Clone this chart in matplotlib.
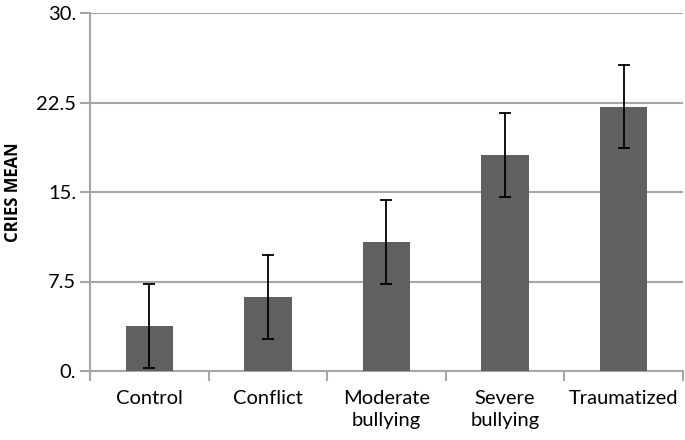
import matplotlib
matplotlib.use("Agg")
import matplotlib.pyplot as plt
import numpy as np

categories = ["Control", "Conflict", "Moderate\nbullying", "Severe\nbullying", "Traumatized"]
means = [3.75, 6.2, 10.8, 18.1, 22.15]
errors = [3.5, 3.5, 3.5, 3.5, 3.5]
yticks = [0, 7.5, 15, 22.5, 30]
ytick_labels = ["0.", "7.5", "15.", "22.5", "30."]

plt.rcParams['font.family'] = ['Lato', 'DejaVu Sans']

fig = plt.figure(figsize=(6.85, 4.4), dpi=100)
ax = fig.add_axes([90/685, 1-371/440, 593/685, 358/440])

grid_c = "#a6a6a6"
x = np.arange(len(categories))
ax.bar(x, means, width=0.4, color="#606060", zorder=3)
ax.errorbar(x, means, yerr=errors, fmt="none", ecolor="black", elinewidth=1.3,
            capsize=4, capthick=1.3, zorder=4)

ax.set_xlim(-0.5, len(categories) - 0.5)
ax.set_ylim(0, 30)
ax.set_yticks(yticks)
ax.set_yticklabels(ytick_labels, fontsize=14.5)
ax.set_xticks(x)
ax.set_xticklabels(categories, fontsize=14.5, linespacing=1.35, va="top")
ax.set_xticks(np.arange(len(categories) + 1) - 0.5, minor=True)
ax.tick_params(axis="x", which="major", length=0, pad=14)
ax.tick_params(axis="x", which="minor", length=7, width=1.5, color=grid_c, direction="out")
ax.tick_params(axis="y", length=7, width=1.5, color=grid_c, direction="out", pad=3)

ax.yaxis.grid(True, color=grid_c, linewidth=1.5, zorder=0)
ax.set_axisbelow(True)
for s in ["top", "right"]:
    ax.spines[s].set_visible(False)
for s in ["left", "bottom"]:
    ax.spines[s].set_color(grid_c)
    ax.spines[s].set_linewidth(1.5)

ax.set_ylabel("CRIES MEAN", fontsize=12, fontweight="bold", labelpad=10,
              family=["Open Sans", "DejaVu Sans"])

fig.savefig("out.png", dpi=100)
